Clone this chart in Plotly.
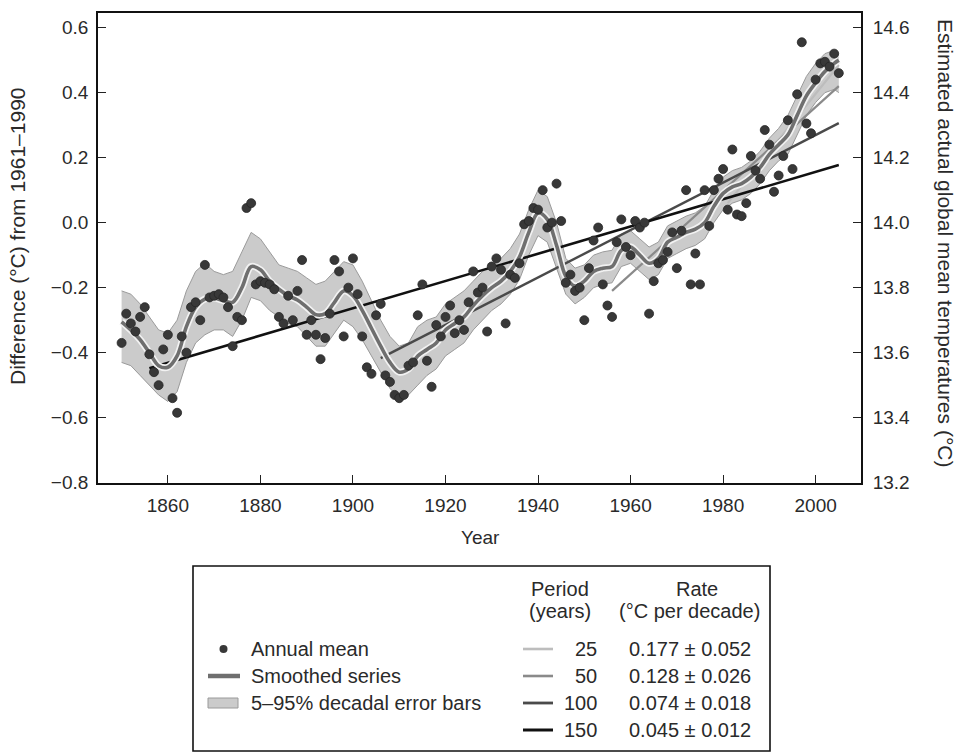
import plotly.graph_objects as go

# ---------------- data ----------------
years = list(range(1850, 2006))
annual = [
    -0.37, -0.28, -0.31, -0.335, -0.29, -0.26, -0.405, -0.46, -0.50, -0.39,
    -0.345, -0.54, -0.585, -0.35, -0.40, -0.26, -0.245, -0.30, -0.13, -0.23,
    -0.225, -0.22, -0.23, -0.26, -0.38, -0.29, -0.30, 0.045, 0.06, -0.19,
    -0.18, -0.185, -0.19, -0.205, -0.29, -0.31, -0.225, -0.30, -0.21, -0.115,
    -0.345, -0.30, -0.345, -0.42, -0.355, -0.28, -0.115, -0.15, -0.35, -0.20,
    -0.11, -0.22, -0.35, -0.445, -0.465, -0.285, -0.25, -0.47, -0.49, -0.53,
    -0.54, -0.53, -0.44, -0.43, -0.285, -0.19, -0.425, -0.505, -0.315, -0.35,
    -0.29, -0.255, -0.34, -0.30, -0.33, -0.245, -0.15, -0.215, -0.20, -0.335,
    -0.135, -0.11, -0.145, -0.31, -0.16, -0.17, -0.125, -0.005, 0.005, 0.045,
    0.04, 0.10, -0.015, 0.0, 0.12, 0.005, -0.185, -0.16, -0.21, -0.20,
    -0.30, -0.14, -0.055, -0.015, -0.19, -0.255, -0.29, -0.06, 0.01, -0.075,
    -0.10, 0.005, -0.015, 0.0, -0.28, -0.18, -0.125, -0.115, -0.09, -0.03,
    -0.14, -0.025, 0.10, -0.19, -0.095, -0.19, 0.10, -0.01, 0.10, 0.135,
    0.165, 0.04, 0.225, 0.025, 0.02, 0.06, 0.205, 0.16, 0.135, 0.285,
    0.24, 0.095, 0.145, 0.205, 0.315, 0.165, 0.395, 0.555, 0.305, 0.275,
    0.44, 0.49, 0.495, 0.48, 0.52, 0.46,
]

sm_years = [1850, 1852, 1854, 1856, 1858, 1860, 1862, 1864, 1866, 1868,
            1870, 1872, 1874, 1876, 1878, 1880, 1882, 1884, 1886, 1888,
            1890, 1892, 1894, 1896, 1898, 1900, 1902, 1904, 1906, 1908,
            1910, 1912, 1914, 1916, 1918, 1920, 1922, 1924, 1926, 1928,
            1930, 1932, 1934, 1936, 1938, 1940, 1942, 1944, 1946, 1948,
            1950, 1952, 1954, 1956, 1958, 1960, 1962, 1964, 1966, 1968,
            1970, 1972, 1974, 1976, 1978, 1980, 1982, 1984, 1986, 1988,
            1990, 1992, 1994, 1996, 1998, 2000, 2002, 2004, 2005]
smoothed = [-0.305, -0.33, -0.36, -0.40, -0.44, -0.445, -0.41, -0.32, -0.26, -0.235,
            -0.232, -0.24, -0.245, -0.20, -0.135, -0.145, -0.18, -0.205, -0.225, -0.238,
            -0.26, -0.283, -0.28, -0.245, -0.21, -0.225, -0.27, -0.325, -0.38, -0.43,
            -0.46, -0.45, -0.41, -0.39, -0.37, -0.33, -0.31, -0.29, -0.255, -0.225,
            -0.20, -0.18, -0.15, -0.105, -0.03, 0.03, 0.01, -0.07, -0.165, -0.195,
            -0.18, -0.15, -0.14, -0.135, -0.085, -0.075, -0.10, -0.125, -0.11, -0.06,
            -0.045, -0.03, -0.02, 0.0, 0.05, 0.09, 0.11, 0.12, 0.14, 0.17,
            0.21, 0.24, 0.27, 0.33, 0.39, 0.43, 0.465, 0.49, 0.50]
band_upper = [-0.21, -0.22, -0.25, -0.29, -0.33, -0.34, -0.30, -0.21, -0.15, -0.125,
              -0.15, -0.16, -0.15, -0.09, -0.03, -0.05, -0.09, -0.13, -0.14, -0.15,
              -0.17, -0.19, -0.18, -0.15, -0.12, -0.13, -0.18, -0.24, -0.30, -0.35,
              -0.38, -0.37, -0.32, -0.30, -0.29, -0.25, -0.23, -0.21, -0.18, -0.15,
              -0.13, -0.11, -0.08, -0.035, 0.04, 0.10, 0.08, 0.0, -0.11, -0.14,
              -0.13, -0.10, -0.09, -0.085, -0.035, -0.025, -0.05, -0.075, -0.06, -0.01,
              0.005, 0.02, 0.03, 0.05, 0.10, 0.14, 0.16, 0.17, 0.19, 0.22,
              0.26, 0.29, 0.33, 0.39, 0.45, 0.49, 0.52, 0.53, 0.52]
band_lower = [-0.43, -0.44, -0.47, -0.50, -0.53, -0.55, -0.52, -0.43, -0.37, -0.345,
              -0.33, -0.33, -0.35, -0.30, -0.23, -0.24, -0.27, -0.29, -0.31, -0.32,
              -0.35, -0.38, -0.38, -0.34, -0.30, -0.32, -0.36, -0.41, -0.46, -0.51,
              -0.54, -0.53, -0.50, -0.47, -0.45, -0.41, -0.39, -0.37, -0.33, -0.30,
              -0.27, -0.25, -0.22, -0.175, -0.10, -0.04, -0.06, -0.14, -0.22, -0.25,
              -0.23, -0.20, -0.19, -0.185, -0.135, -0.125, -0.15, -0.175, -0.16, -0.11,
              -0.095, -0.08, -0.07, -0.05, 0.0, 0.04, 0.06, 0.07, 0.09, 0.12,
              0.16, 0.19, 0.21, 0.27, 0.33, 0.37, 0.40, 0.41, 0.40]

trend_periods = [25, 50, 100, 150]
trend_start_year = [1981, 1956, 1906, 1856]
trend_end_year = [2005, 2005, 2005, 2005]
trend_start_val = [0.06, -0.21, -0.417, -0.448]
trend_end_val = [0.485, 0.42, 0.306, 0.177]
trend_rates = ["0.177 \u00b1 0.052", "0.128 \u00b1 0.026", "0.074 \u00b1 0.018", "0.045 \u00b1 0.012"]

x_ticks = [1860, 1880, 1900, 1920, 1940, 1960, 1980, 2000]
y_ticks = [-0.8, -0.6, -0.4, -0.2, 0.0, 0.2, 0.4, 0.6]
y2_ticks = [13.2, 13.4, 13.6, 13.8, 14.0, 14.2, 14.4, 14.6]
baseline_abs = 14.0

# ---------------- styles ----------------
FONT = "Liberation Sans, Arial, Helvetica, sans-serif"
TXT = "#2a2a2a"
trend_colors = ["#bdbdbd", "#8a8a8a", "#4a4a4a", "#111111"]
trend_widths = [2.2, 2.2, 2.4, 2.6]

W, H = 961, 756
ML, MR, MT, MB = 98, 100, 13, 273
PW, PH = W - ML - MR, H - MT - MB
XR = [1844.9, 2009.8]
YR = [-0.801, 0.645]


def px(x):
    return (x - ML) / PW


def py(y):
    return (H - MB - y) / PH


fig = go.Figure()

# error band
fig.add_trace(go.Scatter(x=sm_years, y=band_upper, mode="lines",
                         line=dict(color="#9a9a9a", width=1), hoverinfo="skip",
                         showlegend=False))
fig.add_trace(go.Scatter(x=sm_years, y=band_lower, mode="lines",
                         line=dict(color="#9a9a9a", width=1), fill="tonexty",
                         fillcolor="#cbcbcb", hoverinfo="skip", showlegend=False))

# trend lines
for i in range(len(trend_periods)):
    fig.add_trace(go.Scatter(x=[trend_start_year[i], trend_end_year[i]],
                             y=[trend_start_val[i], trend_end_val[i]], mode="lines",
                             line=dict(color=trend_colors[i], width=trend_widths[i]),
                             showlegend=False, hoverinfo="skip"))

# smoothed series (with light halo)
fig.add_trace(go.Scatter(x=sm_years, y=smoothed, mode="lines",
                         line=dict(color="#f2f2f2", width=7, shape="spline"),
                         showlegend=False, hoverinfo="skip"))
fig.add_trace(go.Scatter(x=sm_years, y=smoothed, mode="lines",
                         line=dict(color="#6f6f6f", width=3.6, shape="spline"),
                         showlegend=False, hoverinfo="skip"))

# annual means
fig.add_trace(go.Scatter(x=years, y=annual, mode="markers",
                         marker=dict(size=9, color="#383838",
                                     line=dict(color="#262626", width=0.8)),
                         showlegend=False))

# dummy trace for right axis
fig.add_trace(go.Scatter(x=[XR[0]], y=[YR[0] + baseline_abs], yaxis="y2",
                         mode="markers", marker=dict(opacity=0), showlegend=False,
                         hoverinfo="skip"))

TF = dict(family=FONT, size=19, color=TXT)
axis_common = dict(showgrid=False, zeroline=False, showline=True, linecolor="#111",
                   linewidth=1.8, ticks="inside", ticklen=8, tickcolor="#222",
                   tickwidth=1.2, tickfont=TF)

fig.update_layout(
    width=W, height=H,
    margin=dict(l=ML, r=MR, t=MT, b=MB),
    paper_bgcolor="white", plot_bgcolor="white",
    showlegend=False,
    xaxis=dict(range=XR, tickvals=x_ticks, mirror=True, ticklabelstandoff=4,
               **axis_common),
    yaxis=dict(range=YR, tickvals=y_ticks, ticklabelstandoff=4,
               ticktext=[("\u2212" + f"{abs(v):.1f}") if v < 0 else f"{v:.1f}" for v in y_ticks],
               **axis_common),
    yaxis2=dict(range=[YR[0] + baseline_abs, YR[1] + baseline_abs], tickvals=y2_ticks,
                ticktext=[f"{v:.1f}" for v in y2_ticks], ticklabelstandoff=6,
                overlaying="y", side="right", **axis_common),
)

LF = dict(family=FONT, size=20, color=TXT)
ann = []


def label(text, x, y, xanchor="center", angle=0, font=LF):
    ann.append(dict(text=text, x=px(x), y=py(y), xref="paper", yref="paper",
                    xanchor=xanchor, yanchor="middle", textangle=angle,
                    showarrow=False, font=font))


label("Year", 480, 537, font=dict(family=FONT, size=19, color=TXT))
label("Difference (\u00b0C) from 1961\u20131990", 18, 236, angle=-90,
      font=dict(family=FONT, size=21, color=TXT))
label("Estimated actual global mean temperatures (\u00b0C)", 946, 243, angle=90,
      font=dict(family=FONT, size=21, color=TXT))

# ---------------- legend box ----------------
shapes = []
BX0, BX1, BY0, BY1 = 193, 770, 566, 751
shapes.append(dict(type="rect", xref="paper", yref="paper", x0=px(BX0), x1=px(BX1),
                   y0=py(BY1), y1=py(BY0), line=dict(color="#111", width=1.6),
                   fillcolor="white"))
row_y = [649, 676, 703, 730]
shapes.append(dict(type="circle", xref="paper", yref="paper", x0=px(219.5), x1=px(227.5),
                   y0=py(653), y1=py(645), fillcolor="#383838", line=dict(width=0)))
shapes.append(dict(type="line", xref="paper", yref="paper", x0=px(208), x1=px(240),
                   y0=py(row_y[1]), y1=py(row_y[1]), line=dict(color="#6f6f6f", width=4.5)))
shapes.append(dict(type="rect", xref="paper", yref="paper", x0=px(208), x1=px(238),
                   y0=py(708), y1=py(698), fillcolor="#cbcbcb",
                   line=dict(color="#9a9a9a", width=1)))
left_labels = ["Annual mean", "Smoothed series", "5\u201395% decadal error bars"]
for i, t in enumerate(left_labels):
    label(t, 249, row_y[i], xanchor="left")
label("Period", 560, 589)
label("(years)", 560, 611)
label("Rate", 697, 589)
label("(\u00b0C per decade)", 689, 611)
for i in range(len(trend_periods)):
    shapes.append(dict(type="line", xref="paper", yref="paper", x0=px(523), x1=px(553),
                       y0=py(row_y[i]), y1=py(row_y[i]),
                       line=dict(color=trend_colors[i], width=trend_widths[i] + 0.4)))
    label(str(trend_periods[i]), 599, row_y[i], xanchor="right")
    label(trend_rates[i], 690, row_y[i])

fig.update_layout(annotations=ann, shapes=shapes)
fig.write_html("out.html", config={"displayModeBar": False},
               post_script="document.body.style.margin='0';document.body.style.overflow='hidden';")
